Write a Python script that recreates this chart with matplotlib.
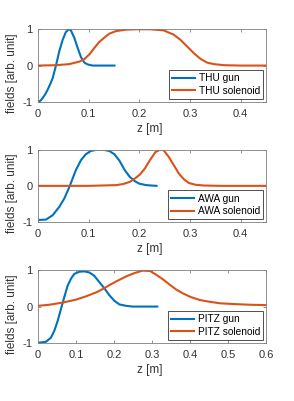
import matplotlib
matplotlib.use("Agg")
import matplotlib.pyplot as plt

plt.rcParams['font.family'] = ['Liberation Sans', 'DejaVu Sans']

BLUE = '#0072BD'
ORANGE = '#D95319'
AXC = '#333333'

# THU
thu_gun_z = [0.0, 0.005, 0.009, 0.014, 0.019, 0.024, 0.029, 0.0356, 0.042, 0.0488, 0.055, 0.0607,
             0.065, 0.0719, 0.0785, 0.085, 0.0917, 0.0983, 0.108, 0.12, 0.135, 0.151]
thu_gun_v = [-1.0, -0.97, -0.9, -0.8, -0.67, -0.52, -0.35, 0.0, 0.39, 0.71, 0.92, 1.0,
             0.97, 0.76, 0.48, 0.23, 0.08, 0.03, 0.0, 0.0, 0.0, 0.0]
thu_sol_z = [0.0, 0.0356, 0.062, 0.082, 0.0917, 0.1016, 0.111, 0.121, 0.131, 0.141, 0.154, 0.174,
             0.194, 0.222, 0.248, 0.268, 0.281, 0.294, 0.3076, 0.321, 0.334, 0.347, 0.367, 0.40, 0.45]
thu_sol_v = [0.0, 0.01, 0.04, 0.11, 0.18, 0.31, 0.48, 0.65, 0.77, 0.88, 0.95, 0.99,
             1.0, 1.0, 0.97, 0.85, 0.71, 0.53, 0.34, 0.18, 0.08, 0.04, 0.01, 0.0, 0.0]

# AWA
awa_gun_z = [0.0, 0.0158, 0.029, 0.042, 0.052, 0.062, 0.0684, 0.075, 0.085, 0.0943, 0.104, 0.1175,
             0.1278, 0.141, 0.151, 0.161, 0.171, 0.181, 0.191, 0.20, 0.214, 0.234]
awa_gun_v = [-0.94, -0.93, -0.81, -0.58, -0.35, -0.03, 0.2, 0.44, 0.71, 0.87, 0.96, 1.0,
             1.0, 0.96, 0.87, 0.69, 0.44, 0.25, 0.13, 0.06, 0.02, 0.0]
awa_sol_z = [0.0, 0.10, 0.154, 0.168, 0.181, 0.191, 0.201, 0.211, 0.221, 0.2317, 0.2416, 0.248,
             0.258, 0.268, 0.278, 0.288, 0.2976, 0.311, 0.327, 0.36, 0.45]
awa_sol_v = [0.0, 0.0, 0.02, 0.05, 0.11, 0.2, 0.31, 0.48, 0.71, 0.93, 1.0, 0.98,
             0.8, 0.57, 0.34, 0.18, 0.08, 0.03, 0.01, 0.0, 0.0]

# PITZ
pitz_gun_z = [0.0, 0.021, 0.034, 0.043, 0.0518, 0.0605, 0.069, 0.078, 0.087, 0.0956, 0.109, 0.122,
              0.135, 0.148, 0.161, 0.175, 0.188, 0.201, 0.214, 0.232, 0.249, 0.28, 0.314]
pitz_gun_v = [-1.0, -0.97, -0.86, -0.67, -0.4, -0.07, 0.25, 0.57, 0.77, 0.9, 0.96, 0.97,
              0.94, 0.85, 0.68, 0.5, 0.31, 0.16, 0.06, 0.02, 0.0, 0.0, 0.0]
pitz_sol_z = [0.0, 0.0298, 0.065, 0.10, 0.126, 0.153, 0.17, 0.188, 0.209, 0.232, 0.253, 0.275,
              0.295, 0.312, 0.33, 0.347, 0.365, 0.382, 0.40, 0.426, 0.4526, 0.479, 0.514, 0.558, 0.60]
pitz_sol_v = [0.02, 0.05, 0.11, 0.19, 0.28, 0.39, 0.48, 0.59, 0.71, 0.83, 0.92, 0.99,
              0.98, 0.87, 0.74, 0.6, 0.46, 0.36, 0.27, 0.18, 0.13, 0.09, 0.07, 0.05, 0.04]

panels = [
    (thu_gun_z, thu_gun_v, thu_sol_z, thu_sol_v, 'THU', 0.45, [0, 0.1, 0.2, 0.3, 0.4], ['0', '0.1', '0.2', '0.3', '0.4']),
    (awa_gun_z, awa_gun_v, awa_sol_z, awa_sol_v, 'AWA', 0.45, [0, 0.1, 0.2, 0.3, 0.4], ['0', '0.1', '0.2', '0.3', '0.4']),
    (pitz_gun_z, pitz_gun_v, pitz_sol_z, pitz_sol_v, 'PITZ', 0.6, [0, 0.1, 0.2, 0.3, 0.4, 0.5, 0.6],
     ['0', '0.1', '0.2', '0.3', '0.4', '0.5', '0.6']),
]

fig = plt.figure(figsize=(2.94, 4.01), dpi=100)
bottoms = [0.746, 0.446, 0.145]
for (gz, gv, sz, sv, name, xmax, xt, xtl), b in zip(panels, bottoms):
    ax = fig.add_axes([0.129, b, 0.776, 0.181])
    ax.plot(gz, gv, color=BLUE, lw=1.5, label=f'{name} gun')
    ax.plot(sz, sv, color=ORANGE, lw=1.5, label=f'{name} solenoid')
    ax.set_xlim(0, xmax)
    ax.set_ylim(-1, 1)
    ax.set_xticks(xt)
    ax.set_xticklabels(xtl)
    ax.set_yticks([-1, 0, 1])
    ax.set_yticklabels(['-1', '0', '1'])
    ax.tick_params(direction='in', top=True, right=True, length=2.5, width=0.6,
                   labelsize=8, colors=AXC)
    ax.tick_params(axis='x', pad=5)
    ax.tick_params(axis='y', pad=4)
    ax.tick_params(axis='both', color='#7f7f7f')
    for sp in ax.spines.values():
        sp.set_color('#7f7f7f')
        sp.set_linewidth(0.6)
    ax.set_xlabel('z [m]', fontsize=8.5, color=AXC)
    ax.set_ylabel('fields [arb. unit]', fontsize=8.5, color=AXC)
    ax.xaxis.set_label_coords(0.49, -0.29)
    ax.yaxis.set_label_coords(-0.088, 0.40)
    leg = ax.legend(loc='lower right', fontsize=7.3, frameon=True, fancybox=False,
                    handlelength=2.3, borderpad=0.3, labelspacing=0.25, handletextpad=0.35,
                    borderaxespad=0.3)
    leg.get_frame().set_edgecolor('#333333')
    leg.get_frame().set_linewidth(0.6)
    leg.get_frame().set_alpha(1)

fig.savefig('out.png', dpi=100)
